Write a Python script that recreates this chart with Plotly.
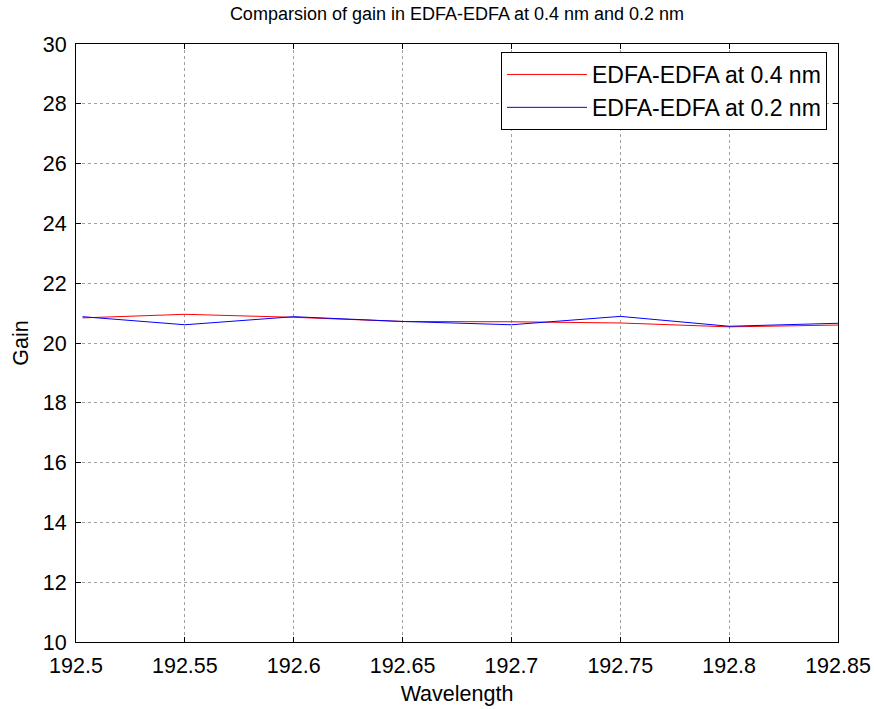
import plotly.graph_objects as go

wavelength = [192.503, 192.55, 192.6, 192.65, 192.7, 192.75, 192.8, 192.85]
gain_04 = [20.84, 20.96, 20.86, 20.72, 20.71, 20.67, 20.54, 20.60]
gain_02 = [20.88, 20.61, 20.88, 20.72, 20.61, 20.89, 20.56, 20.66]
x_ticks = [192.5, 192.55, 192.6, 192.65, 192.7, 192.75, 192.8, 192.85]
x_labels = ["192.5", "192.55", "192.6", "192.65", "192.7", "192.75", "192.8", "192.85"]
y_ticks = [10, 12, 14, 16, 18, 20, 22, 24, 26, 28, 30]

FONT = "Liberation Sans, Arial, sans-serif"

fig = go.Figure()
fig.add_trace(go.Scatter(x=wavelength, y=gain_04, mode="lines", name="EDFA-EDFA at 0.4 nm",
                         line=dict(color="#ff0000", width=1)))
fig.add_trace(go.Scatter(x=wavelength, y=gain_02, mode="lines", name="EDFA-EDFA at 0.2 nm",
                         line=dict(color="#0000ff", width=1)))

axis_common = dict(showline=True, linecolor="black", linewidth=1, mirror="ticks",
                   ticks="inside", ticklen=5, tickcolor="black", showgrid=True,
                   gridcolor="#a0a0a0", griddash="dot", gridwidth=1, zeroline=False,
                   automargin=False,
                   tickfont=dict(family=FONT, size=21.5, color="black"))

fig.update_layout(
    width=874, height=709,
    margin=dict(l=76, r=36, t=44, b=67),
    paper_bgcolor="white", plot_bgcolor="white",
    font=dict(family=FONT, color="black"),
    title=dict(text="Comparsion of gain in EDFA-EDFA at 0.4 nm and 0.2 nm",
               x=0.5, xref="paper", y=1 - 14 / 709, yanchor="middle",
               font=dict(family=FONT, size=18, color="black")),
    xaxis=dict(range=[192.5, 192.85], tickvals=x_ticks, ticktext=x_labels,
               ticklabelstandoff=4,
               title=dict(text="Wavelength", font=dict(family=FONT, size=21.5), standoff=9),
               **axis_common),
    yaxis=dict(range=[10, 30], tickvals=y_ticks, ticklabelstandoff=4,
               title=dict(text="Gain", font=dict(family=FONT, size=21.5), standoff=8),
               **axis_common),
    legend=dict(x=(827 - 76) / 762, y=(642 - 52) / 598, xanchor="right", yanchor="top",
                bgcolor="white", bordercolor="black", borderwidth=1,
                font=dict(family=FONT, size=23, color="black"),
                itemwidth=80),
    showlegend=True,
)

fig.write_html("out.html")
